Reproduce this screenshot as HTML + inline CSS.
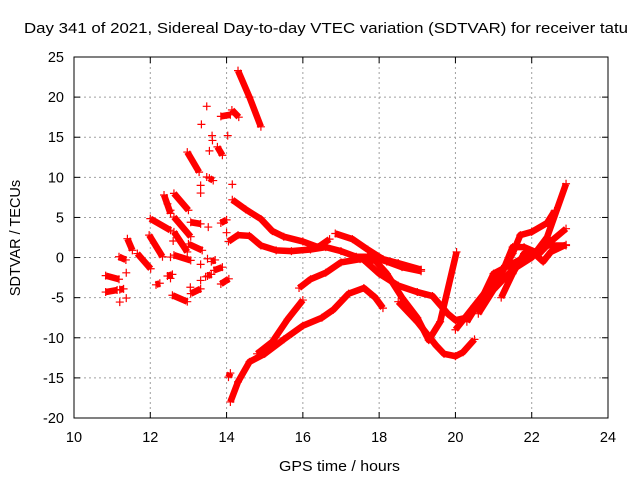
<!DOCTYPE html>
<html><head><meta charset="utf-8"><style>
body{margin:0;background:#fff}
svg{display:block;font-family:"Liberation Sans",sans-serif}
</style></head><body>
<svg id="chart" width="640" height="480" viewBox="0 0 640 480">
<g id="grid"></g>
<g id="series"></g>
<rect x="74" y="57" width="534" height="361" fill="none" stroke="#000" stroke-width="1"/>
<g id="axes"></g>
<text x="24" y="33" font-size="14.5" textLength="604" lengthAdjust="spacingAndGlyphs">Day 341 of 2021, Sidereal Day-to-day VTEC variation (SDTVAR) for receiver tatu</text>
<text x="279" y="471" font-size="14.5" textLength="121" lengthAdjust="spacingAndGlyphs">GPS time / hours</text>
<text transform="translate(20,238) rotate(-90)" text-anchor="middle" font-size="14.5">SDTVAR / TECUs</text>
</svg>
<script>
const xTicks=[10,12,14,16,18,20,22,24];
const yTicks=[-20,-15,-10,-5,0,5,10,15,20,25];
const trackA=[[14.3,23.3],[14.6,20],[14.9,16.3]];
const trackB=[[14.15,7.2],[14.5,6],[14.9,4.8],[15.2,3.3],[15.5,2.6],[16,2],[16.4,1.3],[16.7,2.3]];
const trackC=[[14.05,2],[14.3,2.8],[14.6,2.7],[14.9,1.5],[15.3,0.9],[15.7,0.8],[16.2,1.0],[16.6,1.3],[17,0.8],[17.4,0.1],[17.8,0.1],[18.2,-0.5],[18.6,-1.2],[19.1,-1.7]];
const trackD=[[16.85,3],[17.3,2.3],[17.7,1.0],[18.1,-0.2],[18.5,-0.7],[19.1,-1.5]];
const trackE=[[17.6,-0.3],[18,-2],[18.5,-3.5],[19,-4.3],[19.4,-4.8],[19.8,-7],[20.0,-7.8],[20.3,-7.5],[20.7,-5],[21.2,-2],[21.5,0.5],[21.7,2.8],[22,3.2],[22.4,4.3],[22.6,5.8]];
const trackF=[[18.5,-5.5],[19,-8],[19.5,-11],[19.7,-12],[20,-12.3],[20.2,-11.8],[20.5,-10.2]];
const trackG=[[15.9,-3.8],[16.2,-2.7],[16.6,-1.9],[17,-0.6],[17.5,-0.2],[17.9,-0.4],[18.2,-2],[18.6,-5],[19,-7.5],[19.3,-10.3],[19.6,-8],[20.03,0.7]];
const trackH=[[14.8,-12],[15.2,-10.5],[15.6,-7.7],[16,-5.3]];
const trackI=[[14.1,-18],[14.3,-15.5],[14.6,-13],[15,-12],[15.5,-10.2],[16,-8.5],[16.5,-7.5],[16.8,-6.5],[17.2,-4.5],[17.6,-3.8],[17.9,-5],[18.1,-6.3]];
const trackJ=[[20,-9],[20.5,-6],[21,-3],[21.3,-1],[21.5,1.3],[21.8,1.3],[22.1,0.7],[22.4,1.5],[22.9,1.5]];
const trackK=[[20.3,-8],[20.7,-5],[21,-2],[21.4,-1],[21.8,0],[22.2,0.5],[22.5,2],[22.9,3.6]];
const trackL=[[21.2,-5],[21.5,-2],[21.8,0.5],[22.0,0.8],[22.3,-0.5],[22.5,0.7],[22.9,1.6]];
const trackM=[[20.6,-7],[21,-4],[21.5,-1.5],[22,0],[22.4,2.5],[22.9,9.2]];
const shortSegs=[
[[10.83,-2.25],[11.18,-2.7]],[[10.83,-4.3],[11.13,-4.05]],[[11.18,0.1],[11.36,-0.3]],[[11.4,2.35],[11.53,0.9]],
[[11.66,0.5],[12.01,-1.4]],[[11.97,2.8],[12.32,0.1]],[[12.0,4.85],[12.53,3.4]],[[12.36,7.8],[12.53,5.5]],
[[12.62,8.0],[13.0,5.9]],[[12.62,5.05],[13.06,2.6]],[[12.62,3.2],[12.97,0.7]],[[12.62,0.3],[13.06,-0.35]],
[[13.06,4.4],[13.32,4.2]],[[13.0,1.7],[13.36,0.9]],[[12.58,-4.7],[12.97,-5.5]],[[13.06,-4.5],[13.32,-3.9]],
[[12.97,13.15],[13.28,10.65]],[[13.67,-1.6],[13.89,-1.2]],[[13.85,-3.3],[14.06,-2.65]],[[13.85,4.3],[14.0,4.7]],
[[13.76,13.8],[13.89,12.75]],[[13.85,17.6],[14.1,17.8]],[[14.14,18.4],[14.32,17.5]],[[14.05,-14.9],[14.1,-14.4]],
[[11.2,-4.0],[11.3,-3.9]],[[12.15,-3.4],[12.25,-3.2]],[[12.45,-2.3],[12.58,-2.1]],[[13.6,-0.5],[13.7,-0.3]],[[13.5,-2.3],[13.6,-2.1]],[[13.55,9.9],[13.65,9.6]]
];
const scatterX=[13.48,13.34,13.62,13.63,13.55,14.03,13.32,13.32,13.48,14.15,13.52,14.0,12.6,12.53,13.32,13.5,13.32,13.45,11.37,11.37,11.2,12.53,12.45,12.53,13.05];
const scatterY=[18.85,16.6,15.2,14.6,13.3,15.2,9.0,8.04,10.04,9.12,3.8,3.1,2.06,0.06,-0.85,-0.15,-2.85,-2.4,-1.9,-5.05,-5.55,-2.6,6.7,5.9,-3.7];

const X0=74,X1=608,Y0=418,Y1=57;
const sx=v=>X0+(v-10)/(24-10)*(X1-X0);
const sy=v=>Y0-(v+20)/(25+20)*(Y0-Y1);
const NS='http://www.w3.org/2000/svg';
function mk(tag,attrs,parent){const e=document.createElementNS(NS,tag);for(const k in attrs)e.setAttribute(k,attrs[k]);parent.appendChild(e);return e;}
const grid=document.getElementById('grid'),axes=document.getElementById('axes'),ser=document.getElementById('series');
xTicks.forEach(t=>{const x=sx(t);
 if(t>10&&t<24){const l=mk('line',{x1:x,x2:x,y1:Y1,y2:Y0,stroke:'#a0a0a0','stroke-dasharray':'2,3'},grid);
 
 }
 mk('line',{x1:x,x2:x,y1:Y0,y2:Y0-6,stroke:'#000'},axes);
 mk('line',{x1:x,x2:x,y1:Y1,y2:Y1+6,stroke:'#000'},axes);
 const tx=mk('text',{x:x,y:Y0+24,'text-anchor':'middle','font-size':'14.5'},axes);tx.textContent=t;
 
 
});
yTicks.forEach(t=>{const y=sy(t);
 if(t>-20&&t<25){const l=mk('line',{x1:X0,x2:X1,y1:y,y2:y,stroke:'#a0a0a0','stroke-dasharray':'2,3'},grid);
 
 }
 mk('line',{x1:X0,x2:X0+6,y1:y,y2:y,stroke:'#000'},axes);
 mk('line',{x1:X1,x2:X1-6,y1:y,y2:y,stroke:'#000'},axes);
 const tx=mk('text',{x:X0-10,y:y+5,'text-anchor':'end','font-size':'14.5'},axes);tx.textContent=t;
 
 
});
function plus(x,y,s,w){const p=mk('path',{d:`M${x-s},${y}H${x+s}M${x},${y-s}V${y+s}`,stroke:'#f00','stroke-width':w,fill:'none'},ser);
 
 }
function track(pts,name){const pl=mk('polyline',{points:pts.map(p=>sx(p[0])+','+sy(p[1])).join(' '),fill:'none',stroke:'#f00','stroke-width':6.5,'stroke-linejoin':'round','stroke-linecap':'butt'},ser);
 
 
 pts.forEach(p=>plus(sx(p[0]),sy(p[1]),4,1.2));}
[trackA,trackB,trackC,trackD,trackE,trackF,trackG,trackH,trackI,trackJ,trackK,trackL,trackM].forEach((t,i)=>track(t,'track-'+i));
shortSegs.forEach(s=>track(s,'short-track'));
scatterX.forEach((x,i)=>plus(sx(x),sy(scatterY[i]),4,1.2));
</script>
</body></html>
